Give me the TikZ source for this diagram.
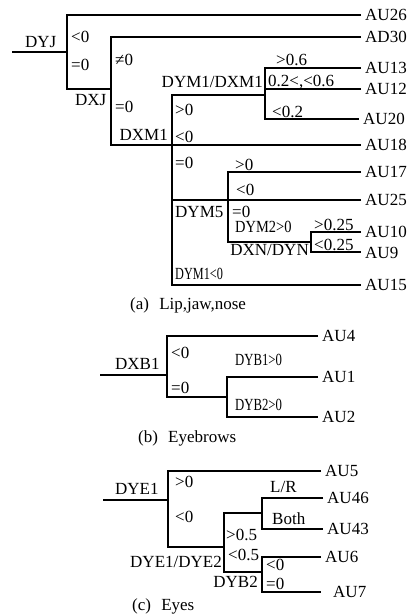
\documentclass[tikz,border=0pt]{standalone}
\usepackage{fontspec}
\setmainfont{Liberation Serif}
\usepackage{graphicx}
\usetikzlibrary{calc}

\begin{document}
\begin{tikzpicture}[x=1pt, y=-1pt, font=\fontsize{17}{20}\selectfont,
            edge/.style={line width=1.2pt, black},
            leaf/.style={anchor=west, inner xsep=4pt, inner ysep=0pt},
            lbl/.style={anchor=west, inner sep=0pt},
            rlbl/.style={anchor=east, inner sep=0pt}]
            \useasboundingbox (0,0) rectangle (416,615);

            \coordinate (dyjIn) at (12,52);
            \coordinate (dyjB) at (67,89);
            \coordinate (dxjB) at (111,145);
            \coordinate (dxmB) at (172,285);
            \coordinate (dymIn) at (265,95);
            \coordinate (dymB) at (265,119);
            \coordinate (dy5B) at (228,242);
            \coordinate (dxnIn) at (311,242);
            \coordinate (dxnB) at (311,252);

            \node[leaf] (au26) at (361,15) {AU26};
            \node[leaf] (ad30) at (361,37) {AD30};
            \node[leaf] (au13) at (361,68) {AU13};
            \node[leaf] (au12) at (361,89) {AU12};
            \node[leaf] (au20) at (359,119) {AU20};
            \node[leaf] (au18) at (361,145) {AU18};
            \node[leaf] (au17) at (361,172) {AU17};
            \node[leaf] (au25) at (361,200) {AU25};
            \node[leaf] (au10) at (361,232) {AU10};
            \node[leaf] (au9) at (361,253) {AU9};
            \node[leaf] (au15) at (361,285) {AU15};

            \node[lbl] (dyj) at (25,42) {DYJ};
            \node[lbl] (dyjLt) at (71,37) {<0};
            \node[lbl] (dyjEq) at (71,65) {=0};
            \node[lbl] (dxjNe) at (115,60) {≠0};
            \node[lbl] (dxj) at (75,100) {DXJ};
            \node[lbl] (dxjEq) at (115,107) {=0};
            \node[rlbl] (dym) at (263,82) {DYM1/DXM1};
            \node[lbl] (dymGt) at (276,60) {>0.6};
            \node[lbl] (dymMid) at (268,82) {0.2<,<0.6};
            \node[lbl] (dymLt) at (272,112) {<0.2};
            \node[lbl] (dxmGt) at (175,110) {>0};
            \node[rlbl] (dxm) at (168,135) {DXM1};
            \node[lbl] (dxmLt) at (175,137) {<0};
            \node[lbl] (dxmEq) at (175,163) {=0};
            \node[lbl] (dy5Gt) at (235,165) {>0};
            \node[lbl] (dy5Lt) at (236,190) {<0};
            \node[lbl] (dy5) at (175,212) {DYM5};
            \node[lbl] (dy5Eq) at (232,212) {=0};
            \node[lbl] (dy2) at (235,227) {\scalebox{0.85}[1]{DYM2>0}};
            \node[rlbl] (dxn) at (309,250) {DXN/DYN};
            \node[lbl] (dxnGt) at (314,225) {>0.25};
            \node[lbl] (dxnLt) at (314,245) {<0.25};
            \node[lbl] (dy1) at (175,274) {\scalebox{0.72}[1]{DYM1<0}};
            \node[lbl] (capA) at (130,305) {(a)\hspace{0.6em}Lip,jaw,nose};

            \draw[edge] (dyjIn) -- (dyjIn -| dyjB);
            \draw[edge] (au26.west) -| (dyjB) -- (dyjB -| dxjB);
            \draw[edge] (ad30.west) -| (dxjB) -- (au18.west);
            \draw[edge] (dymIn) -| (dxmB) -- (au15.west);
            \draw[edge] (au13.west) -| (dymB) -- (au20.west);
            \draw[edge] (au12.west) -- (au12.west -| dymB);
            \draw[edge] (au25.west) -- (au25.west -| dxmB);
            \draw[edge] (au17.west) -| (dy5B) -- (dxnIn);
            \draw[edge] (au10.west) -| (dxnB) -- (dxnB -| au9.west);

            \coordinate (dxbIn) at (100,375);
            \coordinate (dxbB) at (167,397);
            \coordinate (dybB) at (227,417);

            \node[leaf] (au4) at (318,336) {AU4};
            \node[leaf] (au1) at (318,377) {AU1};
            \node[leaf] (au2) at (318,417) {AU2};

            \node[lbl] (dxb) at (115,364) {DXB1};
            \node[lbl] (dxbLt) at (171,353) {<0};
            \node[lbl] (dxbEq) at (171,388) {=0};
            \node[lbl] (dyb1) at (235,360) {\scalebox{0.75}[1]{DYB1>0}};
            \node[lbl] (dyb2) at (235,405) {\scalebox{0.75}[1]{DYB2>0}};
            \node[lbl] (capB) at (138,438) {(b)\hspace{0.6em}Eyebrows};

            \draw[edge] (dxbIn) -- (dxbIn -| dxbB);
            \draw[edge] (au4.west) -| (dxbB) -- (dxbB -| dybB);
            \draw[edge] (au1.west) -| (dybB) -- (au2.west);

            \coordinate (dyeIn) at (103,500);
            \coordinate (dyeB) at (168,547);
            \coordinate (lrIn) at (262,513);
            \coordinate (dyrB) at (224,572);
            \coordinate (lrB) at (262,529);
            \coordinate (dbB) at (262,592);

            \node[leaf] (au5) at (321,471) {AU5};
            \node[leaf] (au46) at (323,498) {AU46};
            \node[leaf] (au43) at (323,529) {AU43};
            \node[leaf] (au6) at (321,557) {AU6};
            \node[leaf, inner xsep=12pt] (au7) at (321,592) {AU7};

            \node[lbl] (dye) at (115,489) {DYE1};
            \node[lbl] (dyeGt) at (175,482) {>0};
            \node[lbl] (dyeLt) at (175,517) {<0};
            \node[rlbl] (dyr) at (222,562) {DYE1/DYE2};
            \node[lbl] (dyrGt) at (226,535) {>0.5};
            \node[lbl] (dyrLt) at (228,555) {<0.5};
            \node[lbl] (lr) at (270,487) {L/R};
            \node[lbl] (both) at (272,519) {Both};
            \node[lbl] (dbLt) at (266,565) {<0};
            \node[lbl] (dbEq) at (266,584) {=0};
            \node[rlbl] (db) at (258,582) {DYB2};
            \node[lbl] (capC) at (132,606) {(c)\hspace{0.6em}Eyes};

            \draw[edge] (dyeIn) -- (dyeIn -| dyeB);
            \draw[edge] (au5.west) -| (dyeB) -- (dyeB -| dyrB);
            \draw[edge] (lrIn) -| (dyrB) -- (dyrB -| dbB);
            \draw[edge] (au46.west) -| (lrB) -- (au43.west);
            \draw[edge] (au6.west) -| (dbB) -- (au7.west);
        \end{tikzpicture}
\end{document}
